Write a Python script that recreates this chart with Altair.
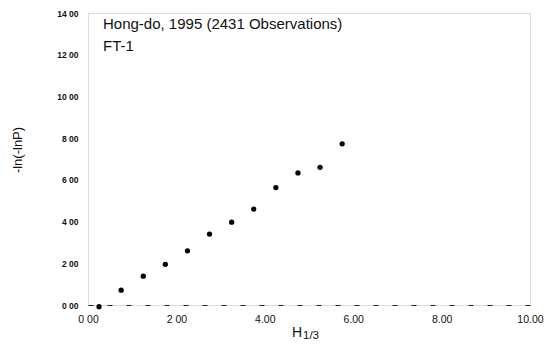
import altair as alt
import pandas as pd

# data
h13 = [0.25, 0.75, 1.25, 1.75, 2.25, 2.75, 3.25, 3.75, 4.25, 4.75, 5.25, 5.75]
lnln = [-0.08, 0.71, 1.38, 1.95, 2.60, 3.40, 3.97, 4.60, 5.63, 6.33, 6.60, 7.73]

x_ticks = [0, 2, 4, 6, 8, 10]
x_tick_labels = ["0 00", "2 00", "4.00", "6.00", "8.00", "10.00"]
y_ticks = [0, 2, 4, 6, 8, 10, 12, 14]
y_tick_labels = ["0 00", "2 00", "4 00", "6 00", "8 00", "10 00", "12 00", "14 00"]

title_line1 = "Hong-do, 1995 (2431 Observations)"
title_line2 = "FT-1"
y_title = "-ln(-lnP)"


def label_expr(vals, labels):
    expr = "''"
    for v, l in reversed(list(zip(vals, labels))):
        expr = f"datum.value == {v} ? '{l}' : ({expr})"
    return expr


df = pd.DataFrame({"x": h13, "y": lnln})
FONT = "Liberation Sans"

x_scale = alt.Scale(domain=[0, 10], nice=False, zero=False)
y_scale = alt.Scale(domain=[0, 14], nice=False, zero=False)

points = alt.Chart(df).mark_point(filled=True, color="black", size=28, opacity=1).encode(
    x=alt.X("x:Q", scale=x_scale,
            axis=alt.Axis(values=x_ticks, labelExpr=label_expr(x_ticks, x_tick_labels),
                          title=None, grid=False, ticks=False, labelFlush=False,
                          domain=True, domainDash=[5, 14], domainColor="#222",
                          domainWidth=1.2,
                          labelFont=FONT, labelFontSize=10.5, labelColor="#111",
                          labelPadding=9)),
    y=alt.Y("y:Q", scale=y_scale,
            axis=alt.Axis(values=y_ticks, labelExpr=label_expr(y_ticks, y_tick_labels),
                          title=None, grid=False, ticks=False, domain=False,
                          labelFont=FONT, labelFontSize=8.5, labelFontWeight="bold",
                          labelColor="#111", labelPadding=10)),
)

ann = pd.DataFrame({"t": [title_line1, title_line2], "yy": [11, 33]})
texts = alt.Chart(ann).mark_text(align="left", baseline="middle", font=FONT,
                                 fontSize=15, color="#111").encode(
    x=alt.value(15), y=alt.Y("yy:Q", scale=None), text="t:N")

ytitle = alt.Chart(pd.DataFrame({"t": [y_title]})).mark_text(
    angle=270, align="center", baseline="middle", font=FONT, fontSize=13, color="#111"
).encode(x=alt.value(-70), y=alt.value(137), text="t:N")

xt_h = alt.Chart(pd.DataFrame({"t": ["H"]})).mark_text(
    align="left", baseline="middle", font=FONT, fontSize=14, color="#111"
).encode(x=alt.value(204), y=alt.value(320), text="t:N")

xt_sub = alt.Chart(pd.DataFrame({"t": ["1/3"]})).mark_text(
    align="left", baseline="middle", font=FONT, fontSize=11.5, color="#111"
).encode(x=alt.value(215), y=alt.value(323), text="t:N")

chart = alt.layer(points, texts, ytitle, xt_h, xt_sub).properties(
    width=442, height=292, autosize="none",
    padding={"left": 80, "top": 5, "right": 15, "bottom": 36},
).configure_view(stroke=None).configure(background="white")

chart.save("out.html", embed_options={"renderer": "svg", "actions": False})
